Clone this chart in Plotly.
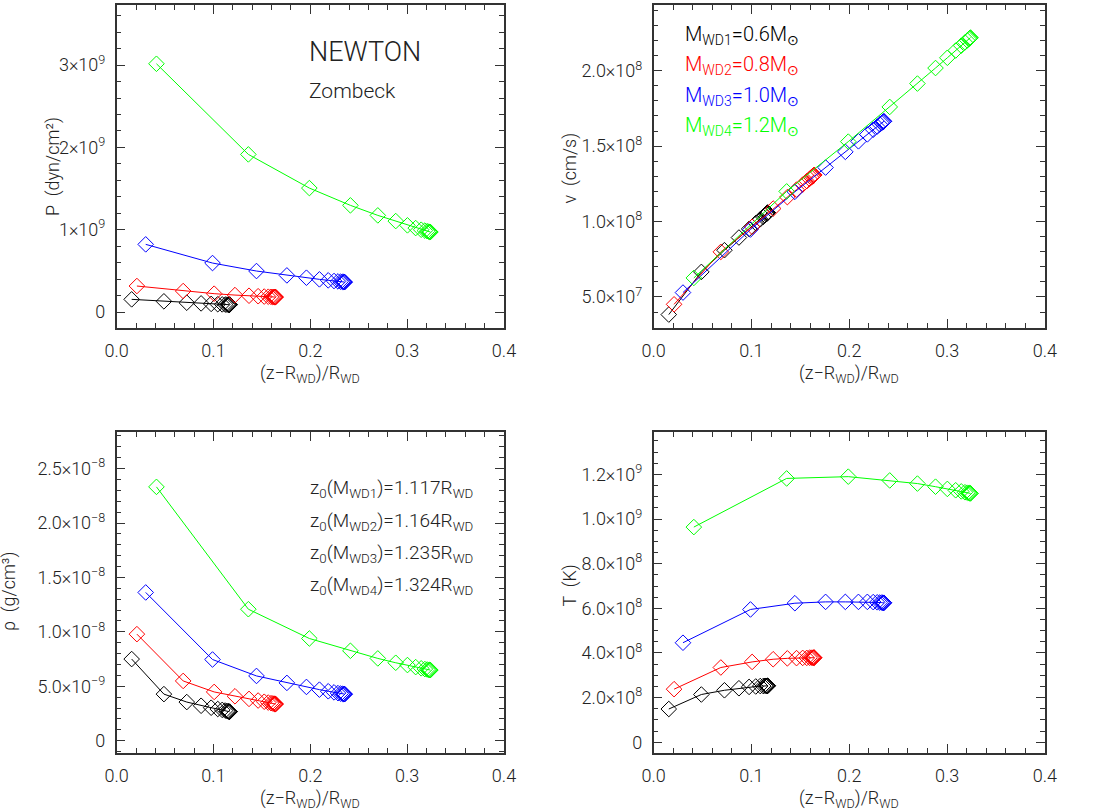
import plotly.graph_objects as go

# ---- normalised height above the white dwarf surface, (z - R_WD)/R_WD ----
x_wd1 = [0.0155, 0.0488, 0.0724, 0.0872, 0.0976, 0.1044, 0.1090, 0.1120,
         0.1139, 0.1151, 0.1158, 0.1162, 0.1164, 0.1165, 0.1166]
x_wd2 = [0.0209, 0.0687, 0.1007, 0.1222, 0.1367, 0.1461, 0.1524, 0.1566,
         0.1594, 0.1612, 0.1624, 0.1632, 0.1637, 0.1640, 0.1642]
x_wd3 = [0.0300, 0.0990, 0.1444, 0.1758, 0.1960, 0.2094, 0.2185, 0.2245,
         0.2286, 0.2313, 0.2331, 0.2342, 0.2349, 0.2353, 0.2355]
x_wd4 = [0.0411, 0.1360, 0.1990, 0.2414, 0.2697, 0.2882, 0.3003, 0.3088,
         0.3145, 0.3183, 0.3207, 0.3222, 0.3231, 0.3237, 0.3240]

# ---- pressure P (dyn/cm^2) ----
p_wd1 = [0.154e9, 0.130e9, 0.113e9, 0.105e9, 0.099e9, 0.095e9, 0.093e9, 0.091e9,
         0.090e9, 0.090e9, 0.089e9, 0.089e9, 0.089e9, 0.089e9, 0.089e9]
p_wd2 = [0.316e9, 0.255e9, 0.223e9, 0.206e9, 0.198e9, 0.192e9, 0.188e9, 0.186e9,
         0.184e9, 0.183e9, 0.183e9, 0.182e9, 0.182e9, 0.182e9, 0.182e9]
p_wd3 = [0.822e9, 0.595e9, 0.498e9, 0.445e9, 0.417e9, 0.397e9, 0.385e9, 0.377e9,
         0.372e9, 0.369e9, 0.367e9, 0.366e9, 0.365e9, 0.364e9, 0.364e9]
p_wd4 = [3.016e9, 1.915e9, 1.506e9, 1.296e9, 1.174e9, 1.105e9, 1.053e9, 1.020e9,
         1.000e9, 0.989e9, 0.982e9, 0.977e9, 0.974e9, 0.973e9, 0.972e9]

# ---- velocity v (cm/s) ----
v_wd1 = [0.383e8, 0.666e8, 0.810e8, 0.894e8, 0.951e8, 0.990e8, 1.015e8, 1.031e8,
         1.042e8, 1.049e8, 1.053e8, 1.056e8, 1.058e8, 1.059e8, 1.060e8]
v_wd2 = [0.451e8, 0.799e8, 0.965e8, 1.086e8, 1.162e8, 1.212e8, 1.245e8, 1.268e8,
         1.283e8, 1.293e8, 1.299e8, 1.303e8, 1.306e8, 1.308e8, 1.309e8]
v_wd3 = [0.529e8, 0.947e8, 1.197e8, 1.358e8, 1.462e8, 1.532e8, 1.578e8, 1.609e8,
         1.630e8, 1.644e8, 1.653e8, 1.659e8, 1.662e8, 1.664e8, 1.665e8]
v_wd4 = [0.626e8, 1.200e8, 1.530e8, 1.760e8, 1.915e8, 2.018e8, 2.086e8, 2.134e8,
         2.166e8, 2.188e8, 2.201e8, 2.210e8, 2.215e8, 2.218e8, 2.220e8]

# ---- density rho (g/cm^3) ----
rho_wd1 = [7.50e-9, 4.28e-9, 3.55e-9, 3.21e-9, 3.03e-9, 2.91e-9, 2.83e-9, 2.77e-9,
           2.73e-9, 2.70e-9, 2.68e-9, 2.67e-9, 2.66e-9, 2.66e-9, 2.66e-9]
rho_wd2 = [9.79e-9, 5.49e-9, 4.48e-9, 4.08e-9, 3.84e-9, 3.69e-9, 3.58e-9, 3.50e-9,
           3.45e-9, 3.42e-9, 3.40e-9, 3.38e-9, 3.37e-9, 3.37e-9, 3.37e-9]
rho_wd3 = [13.62e-9, 7.46e-9, 5.95e-9, 5.31e-9, 4.94e-9, 4.69e-9, 4.54e-9, 4.44e-9,
           4.37e-9, 4.33e-9, 4.31e-9, 4.29e-9, 4.28e-9, 4.28e-9, 4.28e-9]
rho_wd4 = [23.32e-9, 12.08e-9, 9.39e-9, 8.26e-9, 7.56e-9, 7.16e-9, 6.95e-9, 6.76e-9,
           6.65e-9, 6.58e-9, 6.54e-9, 6.51e-9, 6.50e-9, 6.49e-9, 6.49e-9]

# ---- temperature T (K) ----
t_wd1 = [1.49e8, 2.14e8, 2.33e8, 2.42e8, 2.48e8, 2.50e8, 2.52e8, 2.52e8,
         2.53e8, 2.53e8, 2.53e8, 2.53e8, 2.53e8, 2.53e8, 2.53e8]
t_wd2 = [2.38e8, 3.35e8, 3.60e8, 3.72e8, 3.76e8, 3.77e8, 3.78e8, 3.78e8,
         3.79e8, 3.79e8, 3.79e8, 3.79e8, 3.79e8, 3.79e8, 3.79e8]
t_wd3 = [4.46e8, 5.95e8, 6.23e8, 6.29e8, 6.29e8, 6.29e8, 6.29e8, 6.28e8,
         6.27e8, 6.26e8, 6.26e8, 6.25e8, 6.25e8, 6.25e8, 6.25e8]
t_wd4 = [9.64e8, 11.82e8, 11.90e8, 11.73e8, 11.59e8, 11.45e8, 11.35e8, 11.29e8,
         11.24e8, 11.20e8, 11.18e8, 11.17e8, 11.16e8, 11.15e8, 11.15e8]

colors = ["#000000", "#ff0000", "#0000ff", "#00ff00"]
xs = [x_wd1, x_wd2, x_wd3, x_wd4]

x_ticks = [0.0, 0.1, 0.2, 0.3, 0.4]
x_ticktext = ["0.0", "0.1", "0.2", "0.3", "0.4"]

p_ticks = [0, 1e9, 2e9, 3e9]
p_ticktext = ["0", "1×10<sup>9</sup>", "2×10<sup>9</sup>", "3×10<sup>9</sup>"]
v_ticks = [5e7, 1e8, 1.5e8, 2e8]
v_ticktext = ["5.0×10<sup>7</sup>", "1.0×10<sup>8</sup>", "1.5×10<sup>8</sup>", "2.0×10<sup>8</sup>"]
rho_ticks = [0, 5e-9, 1e-8, 1.5e-8, 2e-8, 2.5e-8]
rho_ticktext = ["0", "5.0×10<sup>−9</sup>", "1.0×10<sup>−8</sup>", "1.5×10<sup>−8</sup>",
                "2.0×10<sup>−8</sup>", "2.5×10<sup>−8</sup>"]
t_ticks = [0, 2e8, 4e8, 6e8, 8e8, 1e9, 1.2e9]
t_ticktext = ["0", "2.0×10<sup>8</sup>", "4.0×10<sup>8</sup>", "6.0×10<sup>8</sup>",
              "8.0×10<sup>8</sup>", "1.0×10<sup>9</sup>", "1.2×10<sup>9</sup>"]

W, H = 1096, 812
FONT = "Roboto"
INK = "#222222"
TXT = dict(family=FONT, size=18, color=INK, weight=300)


def px_x(p):
    return p / W


def px_y(p):
    return 1 - p / H


fig = go.Figure()

panels = [
    ("x", "y", [p_wd1, p_wd2, p_wd3, p_wd4]),
    ("x2", "y2", [v_wd1, v_wd2, v_wd3, v_wd4]),
    ("x3", "y3", [rho_wd1, rho_wd2, rho_wd3, rho_wd4]),
    ("x4", "y4", [t_wd1, t_wd2, t_wd3, t_wd4]),
]
for xa, ya, series in panels:
    for xv, yv, c in zip(xs, series, colors):
        fig.add_trace(go.Scatter(
            x=xv, y=yv, xaxis=xa, yaxis=ya, mode="lines+markers",
            line=dict(color=c, width=1),
            marker=dict(symbol="diamond-open", size=12, color=c, line=dict(width=1, color=c)),
            showlegend=False, hoverinfo="skip"))


def xaxis(dom, anchor):
    return dict(domain=dom, anchor=anchor, range=[0, 0.4], tickvals=x_ticks, ticktext=x_ticktext,
                showline=True, linecolor="#333", linewidth=1.5, mirror="allticks",
                ticks="inside", ticklen=9, tickcolor="#333", tickwidth=1,
                minor=dict(ticks="inside", ticklen=5, dtick=0.02, tickcolor="#333"),
                showgrid=False, zeroline=False, tickfont=TXT, ticklabelstandoff=6)


def yaxis(dom, anchor, rng, tv, tt, minor_dt):
    return dict(domain=dom, anchor=anchor, range=rng, tickvals=tv, ticktext=tt,
                showline=True, linecolor="#333", linewidth=1.5, mirror="allticks",
                ticks="inside", ticklen=9, tickcolor="#333", tickwidth=1,
                minor=dict(ticks="inside", ticklen=5, dtick=minor_dt, tick0=0, tickcolor="#333"),
                showgrid=False, zeroline=False, tickfont=TXT, ticklabelstandoff=6)


xl = [px_x(107), px_x(503)]
xr = [px_x(656), px_x(1056)]
yt = [px_y(328), px_y(5)]
yb = [px_y(753), px_y(432)]

fig.update_layout(
    width=W, height=H, margin=dict(l=0, r=0, t=0, b=0),
    paper_bgcolor="white", plot_bgcolor="white",
    xaxis=xaxis(xl, "y"), yaxis=yaxis(yt, "x", [-0.194e9, 3.73e9], p_ticks, p_ticktext, 0.2e9),
    xaxis2=xaxis(xr, "y2"), yaxis2=yaxis(yt, "x2", [2.94e7, 2.436e8], v_ticks, v_ticktext, 1e7),
    xaxis3=xaxis(xl, "y3"), yaxis3=yaxis(yb, "x3", [-1.13e-9, 2.836e-8], rho_ticks, rho_ticktext, 1e-9),
    xaxis4=xaxis(xr, "y4"), yaxis4=yaxis(yb, "x4", [-0.48e8, 1.39e9], t_ticks, t_ticktext, 0.5e8),
)

xlabel = "(z−R<sub>WD</sub>)/R<sub>WD</sub>"
ann = []


def add_text(text, xp, yp, size=18, color=INK, xanchor="center", yanchor="middle", angle=0):
    ann.append(dict(text=text, x=px_x(xp), y=px_y(yp), xref="paper", yref="paper",
                    xanchor=xanchor, yanchor=yanchor, showarrow=False, textangle=angle,
                    font=dict(family=FONT, size=size, color=color, weight=300)))


# axis titles
add_text(xlabel, 305, 374)
add_text(xlabel, 856, 374)
add_text(xlabel, 305, 799)
add_text(xlabel, 856, 799)
add_text("P  (dyn/cm²)", 42, 167, angle=-90)
add_text("v  (cm/s)", 571, 168, angle=-90)
add_text("ρ  (g/cm³)", -3, 592, angle=-90)
add_text("T  (K)", 571, 585, angle=-90)

# panel labels
add_text("NEWTON", 302, 52, size=27, xanchor="left")
add_text("Zombeck", 302, 91, size=21, xanchor="left")

masses = ["0.6", "0.8", "1.0", "1.2"]
for i, (m, c) in enumerate(zip(masses, colors)):
    add_text(f"M<sub>WD{i+1}</sub>=" + m + "M<sub>⊙</sub>", 686, 35 + 30.5 * i, size=20,
             color=c, xanchor="left")

z0 = ["1.117", "1.164", "1.235", "1.324"]
for i, z in enumerate(z0):
    add_text(f"z<sub>0</sub>(M<sub>WD{i+1}</sub>)=" + z + "R<sub>WD</sub>", 303, 489 + 32.3 * i,
             size=19, xanchor="left")

fig.update_layout(annotations=ann)
fig.write_html("out.html")
